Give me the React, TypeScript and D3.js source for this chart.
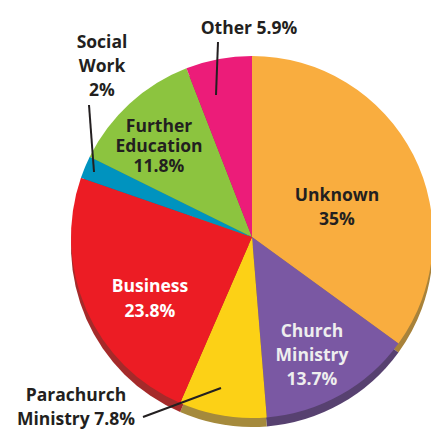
import React from "react";
import * as d3 from "d3";

const categories = ["Unknown", "Church Ministry", "Parachurch Ministry", "Business", "Social Work", "Further Education", "Other"];
const values = [35, 13.7, 7.8, 23.8, 2, 11.8, 5.9];
const valueLabels = ["35%", "13.7%", "7.8%", "23.8%", "2%", "11.8%", "5.9%"];
const topColors = ["#F9AD3F", "#7A58A3", "#FCD116", "#EC1C24", "#0093BF", "#8CC43F", "#EC1C79"];
const sideColors = ["#A8823A", "#574170", "#A58A3C", "#A52A2A", "#0A6A88", "#62893A", "#A51A58"];

const W = 431;
const H = 431;
const CX = 252;
const CY = 237;
const R = 181;
const DEPTH = 9;

type LabelLayout = { lines: string[]; x: number; y: number; lh: number; fill: string; leader?: [number, number, number, number] };

export default function App() {
  const pie = d3.pie<number>().sort(null).value((d) => d)(values);
  const arc = d3.arc<d3.PieArcDatum<number>>().innerRadius(0).outerRadius(R);

  const labels: LabelLayout[] = [
    { lines: [categories[0], valueLabels[0]], x: 337, y: 201, lh: 24, fill: "#231F20" },
    { lines: ["Church", "Ministry", valueLabels[1]], x: 312, y: 337, lh: 24, fill: "#EEEEEE" },
    { lines: ["Parachurch", "Ministry " + valueLabels[2]], x: 76, y: 401, lh: 24, fill: "#231F20", leader: [143, 417, 221, 388] },
    { lines: [categories[3], valueLabels[3]], x: 150, y: 292, lh: 25, fill: "#FFFFFF" },
    { lines: ["Social", "Work", valueLabels[4]], x: 102, y: 48, lh: 24, fill: "#231F20", leader: [89, 105, 94, 172] },
    { lines: ["Further", "Education", valueLabels[5]], x: 159, y: 132, lh: 20, fill: "#231F20" },
    { lines: [categories[6] + " " + valueLabels[6]], x: 249, y: 34, lh: 24, fill: "#231F20", leader: [218, 42, 216, 95] },
  ];

  return (
    <svg width={W} height={H} style={{ position: "absolute", left: 0, top: 0, background: "#fff" }}>
      <g transform={`translate(${CX},${CY + DEPTH})`}>
        {pie.map((d, i) => (
          <path key={"s" + i} d={arc(d) || ""} fill={sideColors[i]} />
        ))}
      </g>
      <g transform={`translate(${CX},${CY})`}>
        {pie.map((d, i) => (
          <path key={"t" + i} d={arc(d) || ""} fill={topColors[i]} />
        ))}
      </g>
      {labels.map((l, i) => (
        <g key={"l" + i}>
          {l.leader && (
            <line x1={l.leader[0]} y1={l.leader[1]} x2={l.leader[2]} y2={l.leader[3]} stroke="#231F20" strokeWidth={2} />
          )}
          <text
            textAnchor="middle"
            fontFamily="'Open Sans', sans-serif"
            fontWeight={700}
            fontSize={17.5}
            fill={l.fill}
          >
            {l.lines.map((t, j) => (
              <tspan key={j} x={l.x} y={l.y + j * l.lh}>
                {t}
              </tspan>
            ))}
          </text>
        </g>
      ))}
    </svg>
  );
}
